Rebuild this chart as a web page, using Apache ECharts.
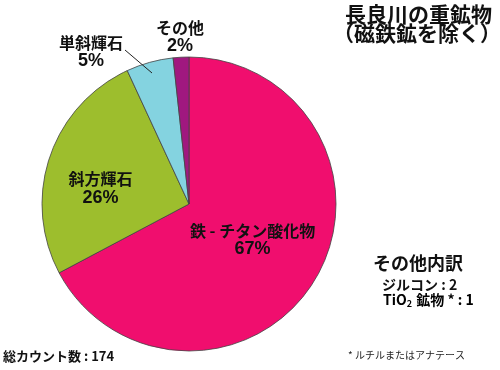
<!DOCTYPE html>
<html>
<head>
<meta charset="utf-8">
<script src="https://cdn.jsdelivr.net/npm/echarts@6/dist/echarts.min.js"></script>
<style>
html,body{margin:0;padding:0;background:#fff;}
#chart{width:500px;height:370px;}
</style>
</head>
<body>
<div id="chart"></div>
<script>
// Data
const categories = ['鉄 - チタン酸化物', '斜方輝石', '単斜輝石', 'その他'];
const counts = [117, 45, 9, 3];
const colors = ['#F00E6E', '#9DBE2D', '#84D3E0', '#A0187F'];
const totalCount = 174;
const otherBreakdown = [['ジルコン', 2], ['TiO2 鉱物 *', 1]];

const FONT = '"Noto Sans CJK JP", "Noto Sans", sans-serif';
const NUMFONT = '"Liberation Sans", Arial, sans-serif';

// label layout (annotation placement)
const labelPlace = {
  0: { dx: -2, dy: -3 },
  1: { dx: -16, dy: 9 },
  2: { x: 91, y: 52 },
  3: { x: 180, y: 37 }
};

const chart = echarts.init(document.getElementById('chart'), null, { renderer: 'canvas' });

const data = categories.map((c, i) => ({
  name: c,
  value: counts[i],
  itemStyle: { color: colors[i] },
  label: i >= 2 ? { position: 'outside' } : undefined
}));

chart.setOption({
  animation: false,
  graphic: [
    { type: 'text', right: 8, top: 4, style: { text: '長良川の重鉱物', font: 'bold 21px ' + FONT, fill: '#111', textAlign: 'right' } },
    { type: 'text', right: -1, top: 23, style: { text: '（磁鉄鉱を除く）', font: 'bold 21px ' + FONT, fill: '#111', textAlign: 'right' } },
    { type: 'text', left: 373, top: 254, style: { text: 'その他内訳', font: 'bold 18px ' + FONT, fill: '#111' } },
    { type: 'text', left: 382, top: 278, style: { text: otherBreakdown[0][0] + ' : ' + otherBreakdown[0][1], font: 'bold 14px ' + FONT, fill: '#111' } },
    { type: 'text', left: 383, top: 293, style: {
        text: '{a|TiO}{s|2}{a| 鉱物 * : ' + otherBreakdown[1][1] + '}',
        rich: {
          a: { fontFamily: FONT, fontWeight: 'bold', fontSize: 14, color: '#111' },
          s: { fontFamily: FONT, fontWeight: 'bold', fontSize: 9, color: '#111', padding: [8, 1, 0, 0] }
        }
    } },
    { type: 'text', left: 348, top: 350, style: { text: '* ルチルまたはアナテース', font: '10px ' + FONT, fill: '#222' } },
    { type: 'text', left: 3, top: 350, style: { text: '総カウント数 : ' + totalCount, font: 'bold 13px ' + FONT, fill: '#111' } },
    { type: 'line', shape: { x1: 125, y1: 50, x2: 152, y2: 73 }, style: { stroke: '#222', lineWidth: 1 }, z: 100 }
  ],
  series: [{
    type: 'pie',
    center: [189, 204],
    radius: 147,
    startAngle: 90,
    clockwise: true,
    percentPrecision: 0,
    avoidLabelOverlap: false,
    itemStyle: { borderColor: '#444', borderWidth: 0.8 },
    label: {
      show: true,
      position: 'inside',
      formatter: '{n|{b}}\n{p|{d}%}',
      align: 'center',
      rich: {
        n: { fontFamily: FONT, fontWeight: 'bold', fontSize: 16, lineHeight: 18, color: '#111' },
        p: { fontFamily: NUMFONT, fontWeight: 'bold', fontSize: 18, lineHeight: 19, color: '#111' }
      }
    },
    labelLine: { show: false },
    emphasis: { disabled: true },
    labelLayout: function (p) {
      const lp = labelPlace[p.dataIndex];
      if (!lp) return {};
      const r = { align: 'center', verticalAlign: 'middle' };
      if (lp.dx !== undefined) { r.dx = lp.dx; r.dy = lp.dy; }
      if (lp.x !== undefined) { r.x = lp.x; r.y = lp.y; }
      return r;
    },
    data: data
  }]
});
</script>
</body>
</html>
